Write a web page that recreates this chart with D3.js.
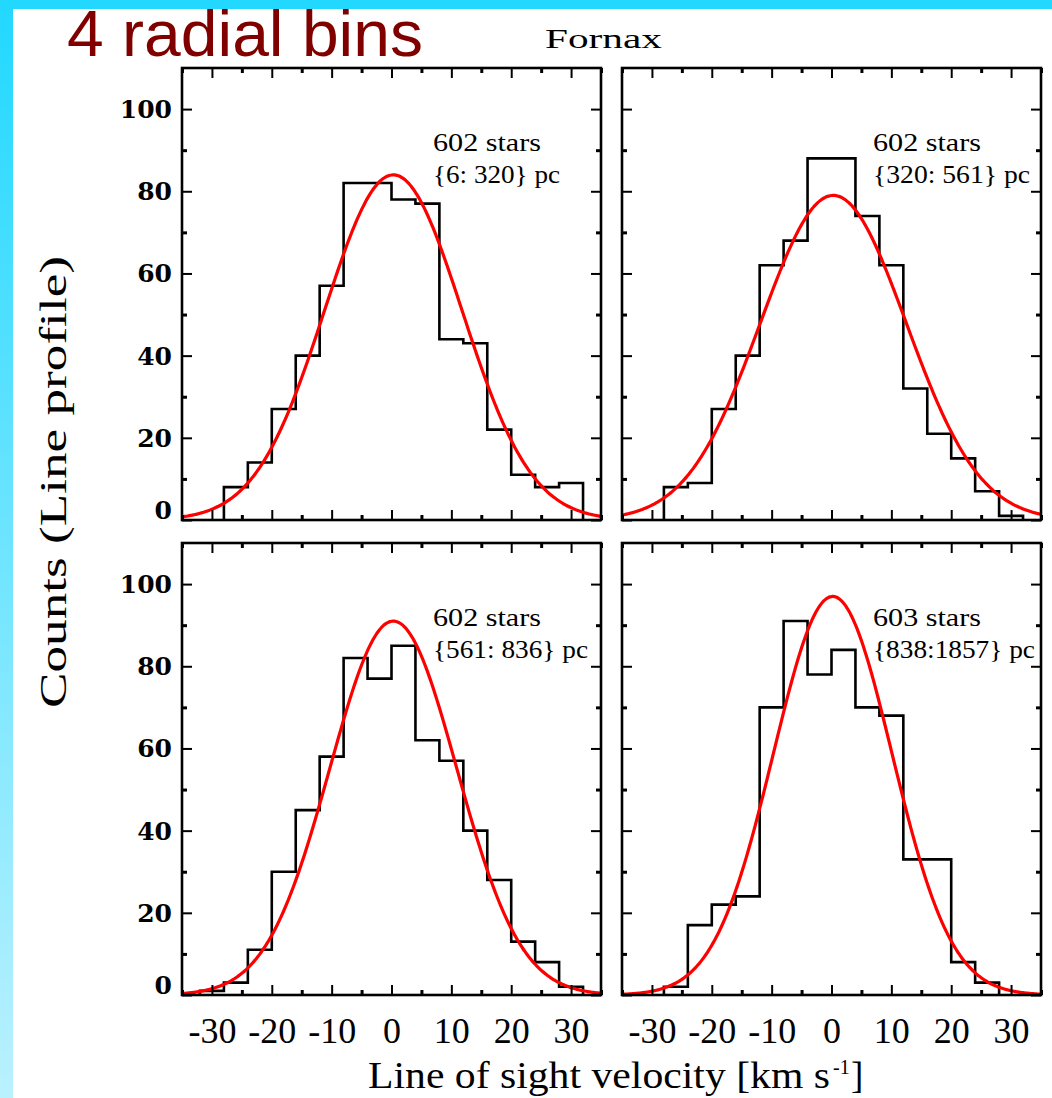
<!DOCTYPE html>
<html>
<head>
<meta charset="utf-8">
<script src="https://cdn.jsdelivr.net/npm/d3@7/dist/d3.min.js"></script>
<style>
  html, body { margin: 0; padding: 0; background: #fff; }
  svg { display: block; }
</style>
</head>
<body>
<svg id="chart" width="1052" height="1098"></svg>
<script>
// Fornax line-of-sight velocity distributions in four radial bins
const panelStars  = [602, 602, 602, 603];
const panelRanges = ["{6: 320} pc", "{320: 561} pc", "{561: 836} pc", "{838:1857} pc"];

// histogram: first bin edge [km/s], bin width 4 km/s
const binStart = [-28, -28, -32, -28];
const binWidth = 4;
const countsBin1 = [8, 14, 27, 40, 57, 82, 82, 78, 77, 44, 43, 22, 11, 8, 9];
const countsBin2 = [8, 9, 27, 40, 62, 68, 88, 88, 74, 62, 32, 21, 15, 7, 1];
const countsBin3 = [1, 3, 11, 30, 45, 58, 82, 77, 85, 62, 57, 40, 28, 13, 8, 2];
const countsBin4 = [2, 17, 22, 24, 70, 91, 78, 84, 70, 68, 33, 33, 8, 3];
const allCounts = [countsBin1, countsBin2, countsBin3, countsBin4];

// Gaussian fits (line profile): peak height, mean, dispersion
const fitPeak  = [84, 79, 91, 97];
const fitMean  = [0.3, 0.3, 0.3, 0.2];
const fitSigma = [11.5, 12.2, 10.6, 9.9];

const xMajorTicks = [-30, -20, -10, 0, 10, 20, 30];
const xMinorTicks = [-35, -25, -15, -5, 5, 15, 25, 35];
const yMajorTicks = [0, 20, 40, 60, 80, 100];
const yMinorTicks = [10, 30, 50, 70, 90];
const xTickLabels = ["-30", "-20", "-10", "0", "10", "20", "30"];
const yTickLabels = ["0", "20", "40", "60", "80", "100"];

const svg = d3.select("#chart");
const W = 1052, H = 1098;

// page decoration: cyan band on top, fading band on the left
const defs = svg.append("defs");
const grad = defs.append("linearGradient").attr("id", "sideFade")
  .attr("x1", 0).attr("y1", 0).attr("x2", 0).attr("y2", 1);
grad.append("stop").attr("offset", "0%").attr("stop-color", "#22d8ff");
grad.append("stop").attr("offset", "100%").attr("stop-color", "#baf1ff");
svg.append("rect").attr("x", 0).attr("y", 0).attr("width", 13).attr("height", H).attr("fill", "url(#sideFade)");
svg.append("rect").attr("x", 0).attr("y", 0).attr("width", W).attr("height", 9).attr("fill", "#22d8ff");

// titles
svg.append("text")
  .attr("x", 67).attr("y", 56)
  .attr("font-family", "'Liberation Sans', Arial, sans-serif")
  .attr("font-size", 64)
  .attr("textLength", 356).attr("lengthAdjust", "spacingAndGlyphs")
  .attr("fill", "#800000")
  .text("4 radial bins");

const serif = "'Liberation Serif', 'Times New Roman', serif";

svg.append("text")
  .attr("x", 545).attr("y", 48)
  .attr("font-family", serif)
  .attr("font-size", 27)
  .attr("textLength", 117).attr("lengthAdjust", "spacingAndGlyphs")
  .attr("fill", "#000")
  .text("Fornax");

// panel geometry
const colX = [182, 622];
const rowY = [68, 543];
const pw = 419, ph = 452;

const x = d3.scaleLinear().domain([-35, 35]).range([0, pw]);
const y = d3.scaleLinear().domain([0, 110]).range([ph, 0]);

allCounts.forEach((counts, i) => {
  const col = i % 2, row = Math.floor(i / 2);
  const g = svg.append("g").attr("transform", `translate(${colX[col]},${rowY[row]})`);

  // histogram outline
  const pts = [[binStart[i], 0]];
  counts.forEach((c, k) => {
    const e0 = binStart[i] + k * binWidth;
    pts.push([e0, c], [e0 + binWidth, c]);
  });
  pts.push([binStart[i] + counts.length * binWidth, 0]);
  g.append("path")
    .attr("d", d3.line().x(d => x(d[0])).y(d => y(d[1]))(pts))
    .attr("fill", "none").attr("stroke", "#000").attr("stroke-width", 2.6)
    .attr("stroke-linejoin", "miter");

  // Gaussian fit
  const vs = d3.range(-35, 35.001, 0.25);
  const fit = vs.map(v => [v, fitPeak[i] * Math.exp(-0.5 * Math.pow((v - fitMean[i]) / fitSigma[i], 2))]);
  g.append("path")
    .attr("d", d3.line().x(d => x(d[0])).y(d => y(d[1])).curve(d3.curveBasis)(fit))
    .attr("fill", "none").attr("stroke", "#ff0000").attr("stroke-width", 3.2);

  // ticks on all four sides, pointing inwards
  const addAxis = (axis, tr, sw) => {
    const a = g.append("g").attr("transform", tr).call(axis);
    a.select(".domain").remove();
    a.selectAll(".tick line").attr("stroke", "#000").attr("stroke-width", sw);
    return a;
  };
  const isBottom = row === 1, isLeft = col === 0;

  const xb = addAxis(d3.axisBottom(x).tickValues(xMajorTicks).tickSize(-10)
      .tickPadding(22).tickFormat((d, k) => isBottom ? xTickLabels[k] : ""),
    `translate(0,${ph})`, 2);
  xb.selectAll(".tick text").attr("font-family", serif).attr("font-size", 36).attr("fill", "#000");
  addAxis(d3.axisBottom(x).tickValues(xMinorTicks).tickSize(-5).tickFormat(""), `translate(0,${ph})`, 3);
  addAxis(d3.axisTop(x).tickValues(xMajorTicks).tickSize(-10).tickFormat(""), "translate(0,0)", 2);
  addAxis(d3.axisTop(x).tickValues(xMinorTicks).tickSize(-5).tickFormat(""), "translate(0,0)", 3);

  const yl = addAxis(d3.axisLeft(y).tickValues(yMajorTicks).tickSize(-10)
      .tickPadding(10).tickFormat((d, k) => isLeft ? yTickLabels[k] : ""),
    "translate(0,0)", 2);
  yl.selectAll(".tick text")
    .attr("font-family", "'DejaVu Serif', serif").attr("font-weight", "bold")
    .attr("font-size", 25).attr("fill", "#000")
    .attr("dy", d => d === 0 ? "-0.05em" : "0.34em");
  addAxis(d3.axisLeft(y).tickValues(yMinorTicks).tickSize(-5).tickFormat(""), "translate(0,0)", 3);
  addAxis(d3.axisRight(y).tickValues(yMajorTicks).tickSize(-10).tickFormat(""), `translate(${pw},0)`, 2);
  addAxis(d3.axisRight(y).tickValues(yMinorTicks).tickSize(-5).tickFormat(""), `translate(${pw},0)`, 3);

  // frame
  g.append("rect").attr("x", 0).attr("y", 0).attr("width", pw).attr("height", ph)
    .attr("fill", "none").attr("stroke", "#000").attr("stroke-width", 2.6);

  // annotations
  g.append("text").attr("x", 251).attr("y", 83)
    .attr("font-family", serif).attr("font-size", 26)
    .attr("textLength", 108).attr("lengthAdjust", "spacingAndGlyphs")
    .text(`${panelStars[i]} stars`);
  const rangeWidths = [127, 157, 155, 162];
  g.append("text").attr("x", 251).attr("y", 115)
    .attr("font-family", serif).attr("font-size", 26)
    .attr("textLength", rangeWidths[i]).attr("lengthAdjust", "spacingAndGlyphs")
    .text(panelRanges[i]);
});

// axis titles
svg.append("text")
  .attr("transform", "translate(66,482) rotate(-90)")
  .attr("text-anchor", "middle")
  .attr("font-family", serif).attr("font-size", 37)
  .attr("textLength", 452).attr("lengthAdjust", "spacingAndGlyphs")
  .text("Counts (Line profile)");

const xt = svg.append("text").attr("y", 1088)
  .attr("font-family", serif).attr("font-size", 37);
xt.append("tspan").attr("x", 368)
  .attr("textLength", 462).attr("lengthAdjust", "spacingAndGlyphs")
  .text("Line of sight velocity [km s");
xt.append("tspan").attr("x", 833).attr("dy", -14).attr("font-size", 20).text("-1");
xt.append("tspan").attr("x", 851).attr("dy", 14).text("]");
</script>
</body>
</html>
